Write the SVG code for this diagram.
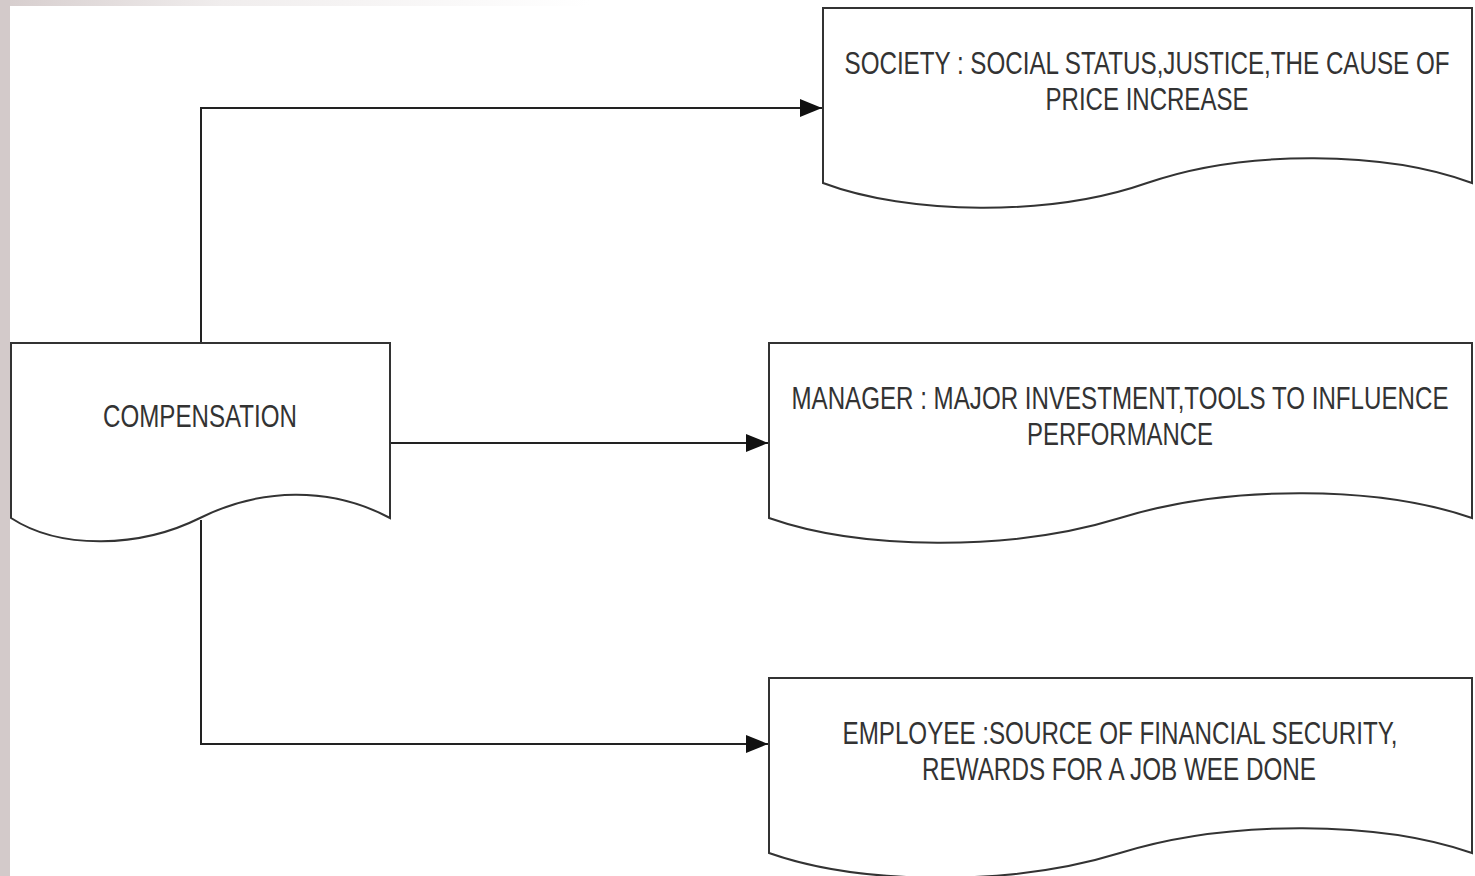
<svg xmlns="http://www.w3.org/2000/svg" width="1475" height="876" viewBox="0 0 1475 876">
<defs>
<linearGradient id="topg" x1="0" y1="0" x2="1" y2="0">
<stop offset="0" stop-color="#d6cdcd"/>
<stop offset="0.15" stop-color="#f0eded"/>
<stop offset="0.4" stop-color="#ffffff"/>
</linearGradient>
<marker id="arr" markerWidth="24" markerHeight="20" refX="23" refY="10" orient="auto" markerUnits="userSpaceOnUse">
<path d="M1,1 L23,10 L1,19 Z" fill="#111"/>
</marker>
<style>
.doc{fill:#fff;stroke:#333;stroke-width:2}
.conn{fill:none;stroke:#222;stroke-width:2}
.t{font-family:"Liberation Sans Narrow","Liberation Sans",Arial,sans-serif;font-size:31px;fill:#333;text-anchor:middle}
</style>
</defs>
<rect x="0" y="0" width="1475" height="876" fill="#fff"/>
<rect x="0" y="0" width="1475" height="6" fill="url(#topg)"/>
<rect x="0" y="0" width="10" height="876" fill="#d3caca"/>
<g id="connectors">
<path class="conn" d="M201,343 V108 H822" marker-end="url(#arr)"/>
<path class="conn" d="M390,443 H768" marker-end="url(#arr)"/>
<path class="conn" d="M201,520 V744 H768" marker-end="url(#arr)"/>
</g>
<g id="compensation">
<path class="doc" d="M11,518 V343 H390 V518 C330,486 260,488 200,518 C140,548 60,550 11,518 Z"/>
<text class="t" x="200" y="427" textLength="194" lengthAdjust="spacingAndGlyphs">COMPENSATION</text>
</g>
<g id="society">
<path class="doc" d="M823,183 V8 H1472 V183 C1386,151 1245,149 1147,183 C1050,217 908,215 823,183 Z"/>
<text class="t" x="1147" y="74" textLength="605" lengthAdjust="spacingAndGlyphs">SOCIETY : SOCIAL STATUS,JUSTICE,THE CAUSE OF</text>
<text class="t" x="1147" y="110" textLength="203" lengthAdjust="spacingAndGlyphs">PRICE INCREASE</text>
</g>
<g id="manager">
<path class="doc" d="M769,518 V343 H1472 V518 C1380,486 1230,484 1120,518 C1010,552 860,550 769,518 Z"/>
<text class="t" x="1120" y="409" textLength="657" lengthAdjust="spacingAndGlyphs">MANAGER : MAJOR INVESTMENT,TOOLS TO INFLUENCE</text>
<text class="t" x="1120" y="445" textLength="186" lengthAdjust="spacingAndGlyphs">PERFORMANCE</text>
</g>
<g id="employee">
<path class="doc" d="M769,853 V678 H1472 V853 C1380,821 1230,819 1120,853 C1010,887 860,885 769,853 Z"/>
<text class="t" x="1120" y="744" textLength="555" lengthAdjust="spacingAndGlyphs">EMPLOYEE :SOURCE OF FINANCIAL SECURITY,</text>
<text class="t" x="1119" y="780" textLength="394" lengthAdjust="spacingAndGlyphs">REWARDS FOR A JOB WEE DONE</text>
</g>
</svg>
